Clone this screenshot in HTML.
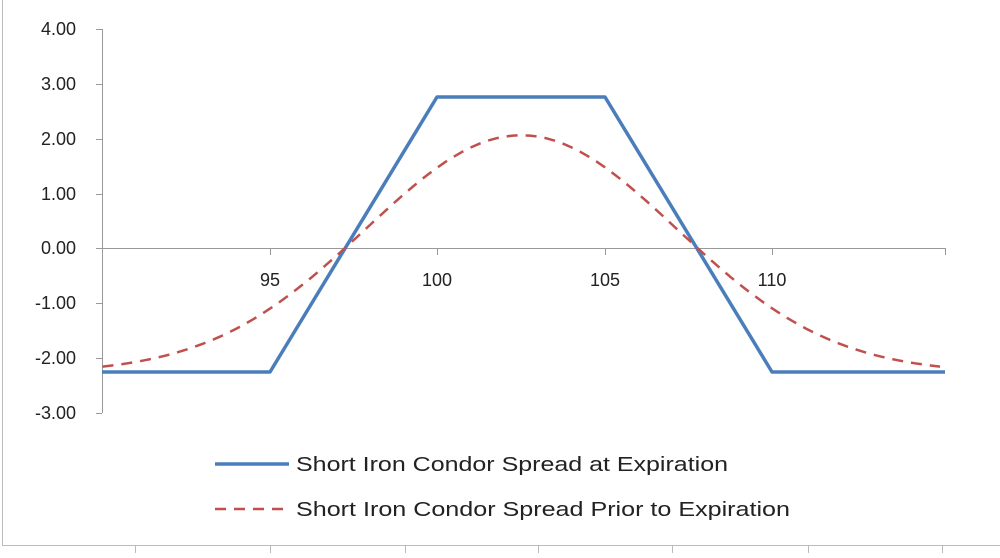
<!DOCTYPE html>
<html><head><meta charset="utf-8"><style>
html,body{margin:0;padding:0;background:#fff}
svg text{font-family:"Liberation Sans",sans-serif;font-size:18px;fill:#222}
</style></head><body>
<svg id="s" width="1000" height="553" xmlns="http://www.w3.org/2000/svg">
<rect x="0" y="0" width="1000" height="553" fill="#fff"/>
<path d="M2.5 0V545.5H1000" stroke="#bbb" stroke-width="1" fill="none"/>
<g stroke="#bbb" stroke-width="1">
<line x1="135.5" y1="545" x2="135.5" y2="553"/><line x1="270.5" y1="545" x2="270.5" y2="553"/>
<line x1="405.5" y1="545" x2="405.5" y2="553"/><line x1="538.5" y1="545" x2="538.5" y2="553"/>
<line x1="672.5" y1="545" x2="672.5" y2="553"/><line x1="808.5" y1="545" x2="808.5" y2="553"/>
<line x1="942.5" y1="545" x2="942.5" y2="553"/>
</g>
<g stroke="#999" stroke-width="1">
<line x1="102.5" y1="29" x2="102.5" y2="413"/>
<line x1="96" y1="29.5" x2="102" y2="29.5"/><line x1="96" y1="84.5" x2="102" y2="84.5"/>
<line x1="96" y1="139.5" x2="102" y2="139.5"/><line x1="96" y1="194.5" x2="102" y2="194.5"/>
<line x1="96" y1="248.5" x2="102" y2="248.5"/><line x1="96" y1="303.5" x2="102" y2="303.5"/>
<line x1="96" y1="358.5" x2="102" y2="358.5"/><line x1="96" y1="413.5" x2="102" y2="413.5"/>
<line x1="102" y1="248.5" x2="945" y2="248.5"/>
<line x1="270.5" y1="248" x2="270.5" y2="255"/><line x1="437.5" y1="248" x2="437.5" y2="255"/>
<line x1="605.5" y1="248" x2="605.5" y2="255"/><line x1="772.5" y1="248" x2="772.5" y2="255"/>
<line x1="945.5" y1="248" x2="945.5" y2="255"/>
</g>
<g text-anchor="end">
<text x="76" y="35">4.00</text><text x="76" y="90">3.00</text><text x="76" y="145">2.00</text>
<text x="76" y="200">1.00</text><text x="76" y="254">0.00</text><text x="76" y="309">-1.00</text>
<text x="76" y="364">-2.00</text><text x="76" y="419">-3.00</text>
</g>
<g text-anchor="middle">
<text x="270" y="286">95</text><text x="437" y="286">100</text>
<text x="605" y="286">105</text><text x="772" y="286">110</text>
</g>
<polyline points="102,372 270,372 437,97 605,97 772,372 945,372" fill="none" stroke="#4a7ebb" stroke-width="3.5" stroke-linejoin="round"/>
<polyline id="red" fill="none" stroke="#c0504d" stroke-width="2.5" stroke-dasharray="11,8"/>
<line x1="215" y1="464" x2="289" y2="464" stroke="#4a7ebb" stroke-width="3.5"/>
<line x1="215" y1="509" x2="289" y2="509" stroke="#c0504d" stroke-width="2.5" stroke-dasharray="11,8"/>
<text x="296" y="471" style="font-size:20px" textLength="432" lengthAdjust="spacingAndGlyphs">Short Iron Condor Spread at Expiration</text>
<text x="296" y="516" style="font-size:20px" textLength="494" lengthAdjust="spacingAndGlyphs">Short Iron Condor Spread Prior to Expiration</text>
</svg>
<script>
var p=[];for(var x=90;x<=115.15;x+=0.25){var v=4.32*Math.exp(-Math.pow(x-102.5,2)/43)-2.27;
p.push((270+(x-95)*33.5).toFixed(1)+","+(248-v*55).toFixed(1));}
document.getElementById("red").setAttribute("points",p.join(" "));
</script>
</body></html>
